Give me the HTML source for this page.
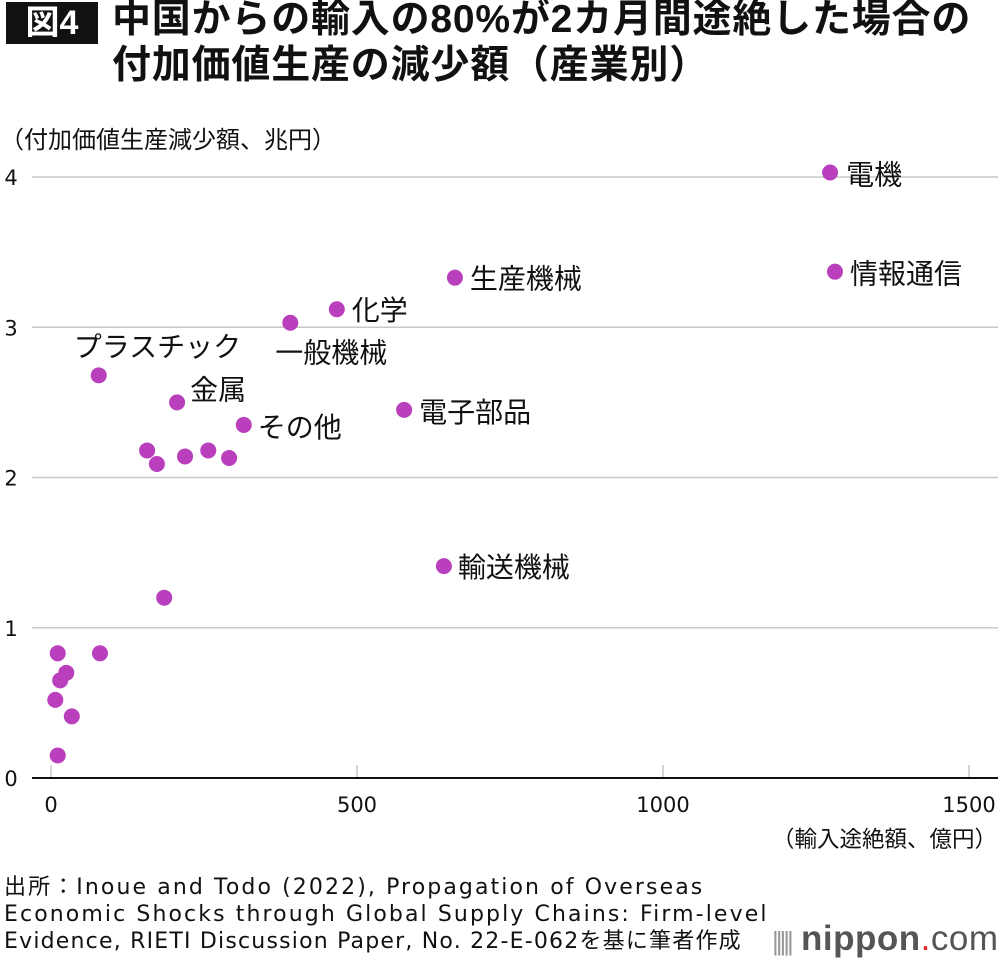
<!DOCTYPE html>
<html><head><meta charset="utf-8"><style>
body{margin:0;width:1000px;height:962px;background:#fff;font-family:"Liberation Sans","Noto Sans CJK JP",sans-serif;color:#111;position:relative;overflow:hidden}
.t{position:absolute;white-space:nowrap}
</style></head><body>
<div class="t" style="left:6px;top:2px;width:92px;height:42px;background:#111;color:#fff;font-size:34px;font-weight:bold;line-height:42px;text-align:center">図4</div>
<div class="t" style="left:112px;top:-3px;font-size:39px;font-weight:bold;line-height:46px;letter-spacing:0.8px">中国からの輸入の80%が2カ月間途絶した場合の<br>付加価値生産の減少額（産業別）</div>
<div class="t" style="left:0px;top:120px;font-size:24px">（付加価値生産減少額、兆円）</div>
<div class="t" style="left:772px;top:822px;font-size:22.5px">（輸入途絶額、億円）</div>
<svg id="chart" style="position:absolute;left:0;top:0" width="1000" height="962"></svg>
<div class="t" style="left:4px;top:874px;font-family:'DejaVu Sans','Noto Sans CJK JP',sans-serif;font-size:22px;line-height:27px;letter-spacing:2.1px">出所：Inoue and Todo (2022), Propagation of Overseas<br>Economic Shocks through Global Supply Chains: Firm-level<br><span style="letter-spacing:1.2px">Evidence, RIETI Discussion Paper, No. 22-E-062を基に筆者作成</span></div>
<div class="t" style="left:772px;top:919px;font-size:35px;color:#555;letter-spacing:0.5px;background:#fff"><span style="color:#999;font-size:26px;letter-spacing:-3px">|||||</span> <b>nippon</b><span style="color:#e8232a">.</span>com</div>
<script>
const xs=[1273,1281,660,467,391,78,206,315,577,642,157,173,219,257,291,185,80,11,25,15,7,34,11];
const ys=[4.03,3.37,3.33,3.12,3.03,2.68,2.50,2.35,2.45,1.41,2.18,2.09,2.14,2.18,2.13,1.20,0.83,0.83,0.70,0.65,0.52,0.41,0.15];
const labels=["電機","情報通信","生産機械","化学","一般機械","プラスチック","金属","その他","電子部品","輸送機械"];
const labelOffsets=[[16,12],[15,12],[15,11],[15,11],[-15,40],[-25,-19],[13,-3],[14,12],[15,12],[14,11]];
const xTicks=[0,500,1000,1500];
const yTicks=[0,1,2,3,4];
const NS="http://www.w3.org/2000/svg";
const svg=document.getElementById('chart');
const X=v=>51+v*0.612, Y=v=>778-v*150.25;
function mk(t,a){const e=document.createElementNS(NS,t);for(const k in a)e.setAttribute(k,a[k]);svg.appendChild(e);return e;}
yTicks.forEach(v=>{
 if(v>0){const g=mk('line',{x1:32,x2:998,y1:Y(v),y2:Y(v),stroke:'#c8c8c8','stroke-width':1.5});
 
 }
 const t=mk('text',{x:11,y:Y(v)+8,'text-anchor':'middle','font-size':21,'font-family':'DejaVu Sans, sans-serif',fill:'#111'});t.textContent=v;
 
 
});
xTicks.forEach(v=>{
 const l=mk('line',{x1:X(v),x2:X(v),y1:765,y2:778,stroke:'#c8c8c8','stroke-width':1.5});
 
 
 const t=mk('text',{x:X(v),y:812,'text-anchor':'middle','font-size':21,'font-family':'DejaVu Sans, sans-serif',fill:'#111'});t.textContent=v;
 
 
});
const ax=mk('line',{x1:32,x2:998,y1:778,y2:778,stroke:'#111','stroke-width':2});


xs.forEach((v,i)=>{
 const c=mk('circle',{cx:X(v),cy:Y(ys[i]),r:8,fill:'#b93fbd'});
 
 
 if(i<labels.length){
  const t=mk('text',{x:X(v)+labelOffsets[i][0],y:Y(ys[i])+labelOffsets[i][1],'font-size':28,fill:'#111'});
  t.textContent=labels[i];
  
  
 }
});
</script>
</body></html>
